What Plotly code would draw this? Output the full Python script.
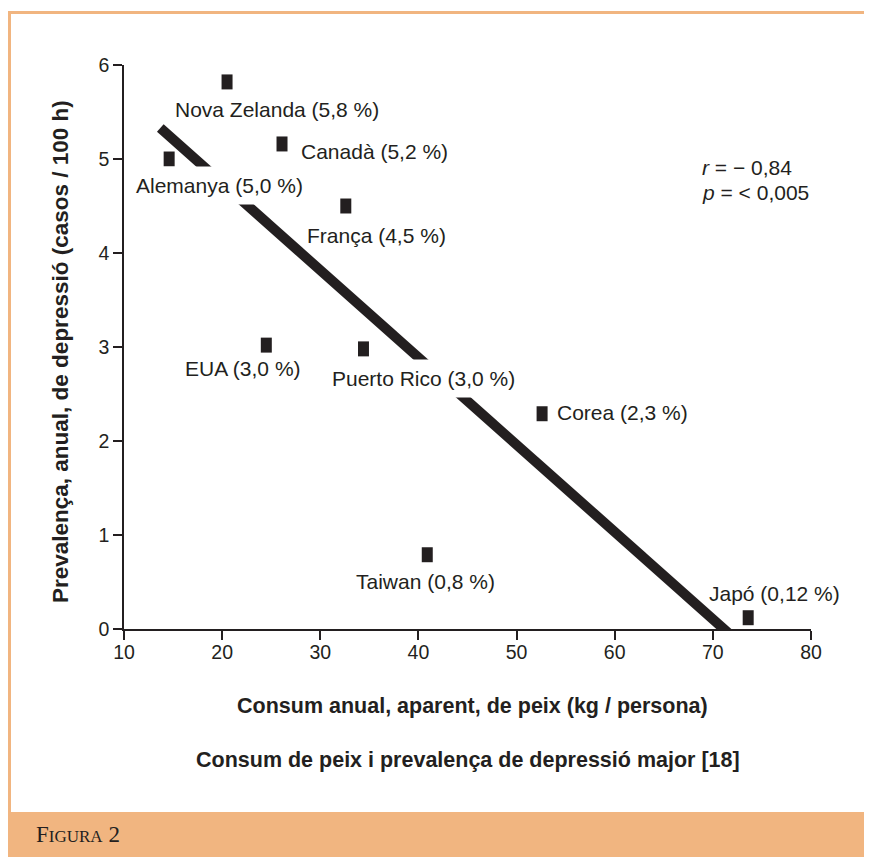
import plotly.graph_objects as go

# ---------------- data ----------------
countries = ["Nova Zelanda", "Canadà", "Alemanya", "França", "EUA",
             "Puerto Rico", "Corea", "Taiwan", "Japó"]
fish_kg = [20.5, 26.1, 14.6, 32.6, 24.5, 34.4, 52.6, 40.9, 73.6]
prevalence = [5.82, 5.16, 5.0, 4.5, 3.02, 2.98, 2.29, 0.79, 0.12]
label_pct = ["5,8", "5,2", "5,0", "4,5", "3,0", "3,0", "2,3", "0,8", "0,12"]

fit_x = [13.7, 72.2]
fit_y = [5.33, -0.1]

x_ticks = [10, 20, 30, 40, 50, 60, 70, 80]
y_ticks = [0, 1, 2, 3, 4, 5, 6]

# label offsets in pixels (text centre relative to point) and backgrounds
label_dx = [50, 92, 50, 31, -23, 60, 80, -2, 26]
label_dy = [28, 8, 26, 29, 23, 30, -1, 27, -24]
label_bg = ["rgba(0,0,0,0)", "rgba(0,0,0,0)", "white", "rgba(0,0,0,0)",
            "rgba(0,0,0,0)", "white", "rgba(0,0,0,0)", "rgba(0,0,0,0)",
            "rgba(0,0,0,0)"]

# ---------------- style ----------------
OFF = 8                       # default page body margin
W, H = 872 - OFF, 857 - OFF   # figure size
PLOT_L, PLOT_R, PLOT_T, PLOT_B = 124, 811, 65, 629   # page pixels
L = PLOT_L - OFF
T = PLOT_T - OFF
R = W - (PLOT_R - OFF)
B = H - (PLOT_B - OFF)
PW, PH = PLOT_R - PLOT_L, PLOT_B - PLOT_T
INK = "#231F20"
ORANGE = "#F1B580"
FONT = "Liberation Sans, Arial, sans-serif"


def px_x(px):
    return (px - PLOT_L) / PW


def px_y(py):
    return (PLOT_B - py) / PH


fig = go.Figure()

fig.add_trace(go.Scatter(
    x=fit_x, y=fit_y, mode="lines",
    line=dict(color=INK, width=10),
    hoverinfo="skip", showlegend=False,
))

fig.add_trace(go.Scatter(
    x=fish_kg, y=prevalence, mode="markers",
    marker=dict(symbol="line-ns", size=10.7, color=INK,
                line=dict(color=INK, width=11)),
    cliponaxis=False, showlegend=False,
))

annotations = []
for c, xv, yv, p, dx, dy, bg in zip(countries, fish_kg, prevalence, label_pct,
                                    label_dx, label_dy, label_bg):
    annotations.append(dict(
        x=xv, y=yv, xref="x", yref="y",
        text=f"{c} ({p} %)", showarrow=False,
        xshift=dx, yshift=-dy, xanchor="center", yanchor="middle",
        font=dict(family=FONT, size=21, color=INK),
        bgcolor=bg, borderpad=7,
    ))

annotations += [
    dict(x=px_x(700), y=px_y(167), xref="paper", yref="paper",
         text="<i>r</i> = − 0,84", showarrow=False, xanchor="left",
         yanchor="middle", font=dict(family=FONT, size=21, color=INK)),
    dict(x=px_x(700), y=px_y(192), xref="paper", yref="paper",
         text="<i>p</i> = < 0,005", showarrow=False, xanchor="left",
         yanchor="middle", font=dict(family=FONT, size=21, color=INK)),
    dict(x=px_x(472), y=px_y(706), xref="paper", yref="paper",
         text="<b>Consum anual, aparent, de peix (kg / persona)</b>",
         showarrow=False, xanchor="center", yanchor="middle",
         font=dict(family=FONT, size=21.5, color=INK)),
    dict(x=px_x(468), y=px_y(760), xref="paper", yref="paper",
         text="<b>Consum de peix i prevalença de depressió major [18]</b>",
         showarrow=False, xanchor="center", yanchor="middle",
         font=dict(family=FONT, size=21.5, color=INK)),
    dict(x=px_x(60), y=px_y(352), xref="paper", yref="paper",
         text="<b>Prevalença, anual, de depressió (casos / 100 h)</b>",
         showarrow=False, xanchor="center", yanchor="middle", textangle=-90,
         font=dict(family=FONT, size=22.5, color=INK)),
    dict(x=px_x(34), y=px_y(834), xref="paper", yref="paper",
         text="F<span style=\"font-size:17px\">IGURA</span> 2",
         showarrow=False, xanchor="left", yanchor="middle",
         font=dict(family="Liberation Serif, serif", size=23, color=INK)),
]

shapes = [
    dict(type="rect", xref="paper", yref="paper",
         x0=px_x(4), x1=px_x(880), y0=px_y(812), y1=px_y(866),
         fillcolor=ORANGE, line=dict(width=0), layer="below"),
    dict(type="line", xref="paper", yref="paper",
         x0=px_x(8), x1=px_x(880), y0=px_y(12.5), y1=px_y(12.5),
         line=dict(color=ORANGE, width=3), layer="below"),
    dict(type="line", xref="paper", yref="paper",
         x0=px_x(9.5), x1=px_x(9.5), y0=px_y(11), y1=px_y(812),
         line=dict(color=ORANGE, width=3), layer="below"),
]

axis_common = dict(
    showgrid=False, zeroline=False, showline=True, linecolor=INK,
    linewidth=1.5, ticks="outside", ticklen=9, tickwidth=1.5,
    tickcolor=INK, tickfont=dict(family=FONT, size=19.5, color=INK),
)

fig.update_layout(
    width=W, height=H,
    margin=dict(l=L, r=R, t=T, b=B, pad=0),
    paper_bgcolor="white", plot_bgcolor="white",
    xaxis=dict(range=[10, 80], tickvals=x_ticks, ticklabelstandoff=-4,
               **axis_common),
    yaxis=dict(range=[0, 6], tickvals=y_ticks, **axis_common),
    annotations=annotations, shapes=shapes,
    showlegend=False,
)

fig.write_html("out.html")
